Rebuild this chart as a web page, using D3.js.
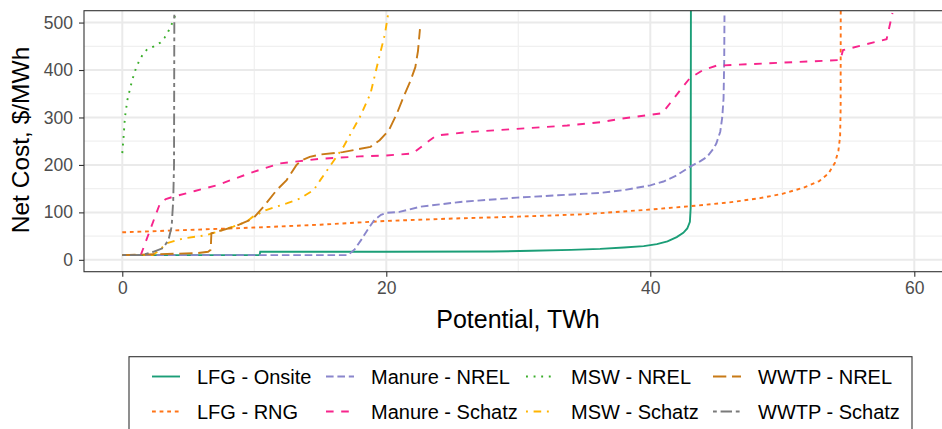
<!DOCTYPE html>
<html>
<head>
<meta charset="utf-8">
<script src="https://cdn.jsdelivr.net/npm/d3@7"></script>
<style>
  body { margin: 0; background: #fff; }
  svg { font-family: "Liberation Sans", Arial, sans-serif; }
</style>
</head>
<body>
<div id="chart"></div>
<script>
// --- data ---
const seriesNames = ["LFG - Onsite", "LFG - RNG", "Manure - NREL", "Manure - Schatz",
                     "MSW - NREL", "MSW - Schatz", "WWTP - NREL", "WWTP - Schatz"];

// [potential TWh, net cost $/MWh]
const lfgOnsite = [[0,10],[10.4,10],[10.45,17],[20,17],[28,17.5],[31,19],[34,21],[36.2,23],[38,26],
  [39.5,29],[40.5,33],[41.3,39],[42,48],[42.5,57],[42.8,66],[43.0,80],[43.06,110],[43.08,600]];
const lfgRng = [[0,58],[5,63],[10,68],[15,74],[20,82],[25,87],[30,91],[35,96],[40,106],[43,113],
  [46,121],[48.3,130],[50,139],[51.6,152],[52.8,166],[53.5,182],[54.0,205],[54.25,230],[54.38,260],
  [54.42,320],[54.43,600]];
const manureNrel = [[0,10],[17.1,10],[17.6,22],[18.1,42],[18.6,64],[19.1,84],[19.6,95],[20,99],[21,101],
  [22.6,112],[25.6,122],[29.9,131],[33,136],[36.2,141],[38,147],[40,157],[41,165],[42,178],[43,196],
  [43.8,208],[44.3,217],[44.8,235],[45,245],[45.3,270],[45.45,300],[45.55,340],[45.6,420],[45.62,515]];
const manureSchatz = [[1.4,10],[1.8,40],[2.2,70],[2.6,100],[2.86,119],[3.3,128],[3.86,133],[5.5,145],
  [7.15,157],[9.9,185],[11.9,203],[13.45,208],[15,213],[18,218],[20,220],[22,224],[23.1,248],[23.8,262],
  [26.1,269],[29.9,276],[33.7,283],[36.2,290],[37.7,297],[40.9,309],[41.5,330],[42.25,357],[43,383],
  [44,400],[45,409],[48.8,414],[54.4,421],[54.6,442],[57.9,465],[58.35,520]];
const mswNrel = [[0,225],[0.1,260],[0.2,300],[0.38,336],[0.6,362],[0.8,383],[1.05,405],[1.35,423],
  [1.6,435],[1.9,444],[2.4,450],[2.9,458],[3.2,468],[3.5,482],[3.8,500],[4.1,522]];
const mswSchatz = [[0,10],[2.3,10],[2.8,20],[3.36,35],[4.6,45],[6.4,52],[7.5,62],[8.4,70],[9.4,80],
  [9.9,91],[10.4,98],[10.9,105],[12.45,119],[13.45,129],[14.5,147],[15,168],[15.7,196],[16.75,238],
  [18,301],[18.8,350],[19.4,420],[19.9,476],[20.15,520]];
const wwtpNrel = [[0,10],[5.6,14],[6.5,17],[6.7,21],[6.75,56],[8.4,69],[9.9,87],[10.7,112],[11.7,147],
  [12.45,168],[13.2,200],[13.6,210],[14.2,217],[15,222],[16.7,227],[18.8,238],[19.5,252],[20.2,273],
  [20.8,308],[21.3,343],[21.8,375],[22.2,406],[22.4,440],[22.55,486]];
const wwtpSchatz = [[0,10],[1.5,10],[2.35,17],[3.1,25],[3.5,42],[3.74,70],[3.86,126],[3.92,200],[3.95,600]];

const seriesData = [lfgOnsite, lfgRng, manureNrel, manureSchatz, mswNrel, mswSchatz, wwtpNrel, wwtpSchatz];

const xTicks = [0, 20, 40, 60];
const yTicks = [0, 100, 200, 300, 400, 500];

// --- styles ---
const colors = ["#1B9E77", "#FF7417", "#8A86CC", "#F7248C", "#3AAE2A", "#FFB400", "#C87A16", "#7A7A7A"];
const u = 1.9; // ggplot linetype unit
const dashes = ["", "2 2", "4 2", "4 4", "1 3", "1 3 4 3", "7 3", "2 2 6 2"]
  .map(s => s ? s.split(" ").map(v => +v * u).join(" ") : null);

const W = 942, H = 429;
const panel = { left: 84, top: 10.7, right: 944, bottom: 271.7 };

const svg = d3.select("#chart").append("svg")
  .attr("width", W).attr("height", H);

const x = d3.scaleLinear().domain([-2.9, 62.25]).range([panel.left, panel.right]);
const y = d3.scaleLinear().domain([-25, 525]).range([panel.bottom, panel.top]);

// grid
const grid = svg.append("g");
[10, 30, 50].forEach(v => grid.append("line")
  .attr("x1", x(v)).attr("x2", x(v)).attr("y1", panel.top).attr("y2", panel.bottom)
  .attr("stroke", "#F0F0F0").attr("stroke-width", 1.2));
[50, 150, 250, 350, 450].forEach(v => grid.append("line")
  .attr("x1", panel.left).attr("x2", panel.right).attr("y1", y(v)).attr("y2", y(v))
  .attr("stroke", "#F0F0F0").attr("stroke-width", 1.2));
xTicks.forEach(v => grid.append("line")
  .attr("x1", x(v)).attr("x2", x(v)).attr("y1", panel.top).attr("y2", panel.bottom)
  .attr("stroke", "#EAEAEA").attr("stroke-width", 2));
yTicks.forEach(v => grid.append("line")
  .attr("x1", panel.left).attr("x2", panel.right).attr("y1", y(v)).attr("y2", y(v))
  .attr("stroke", "#EAEAEA").attr("stroke-width", 2));

// lines
svg.append("clipPath").attr("id", "clip").append("rect")
  .attr("x", panel.left).attr("y", panel.top)
  .attr("width", panel.right - panel.left).attr("height", panel.bottom - panel.top);

const line = d3.line().x(d => x(d[0])).y(d => y(d[1]));

svg.append("g").attr("clip-path", "url(#clip)")
  .selectAll("path").data(seriesData).enter().append("path")
  .attr("d", line)
  .attr("fill", "none")
  .attr("stroke", (d, i) => colors[i])
  .attr("stroke-width", 1.9)
  .attr("stroke-dasharray", (d, i) => dashes[i]);

// panel border
svg.append("rect")
  .attr("x", panel.left).attr("y", panel.top)
  .attr("width", panel.right - panel.left).attr("height", panel.bottom - panel.top)
  .attr("fill", "none").attr("stroke", "#333").attr("stroke-width", 1.1);

// axes
const xAxis = svg.append("g").attr("transform", `translate(0,${panel.bottom})`)
  .call(d3.axisBottom(x).tickValues(xTicks).tickSize(5).tickPadding(5).tickFormat(d3.format("d")));
const yAxis = svg.append("g").attr("transform", `translate(${panel.left},0)`)
  .call(d3.axisLeft(y).tickValues(yTicks).tickSize(5).tickPadding(6).tickFormat(d3.format("d")));
[xAxis, yAxis].forEach(a => {
  a.select(".domain").remove();
  a.selectAll(".tick line").attr("stroke", "#333").attr("stroke-width", 1.1);
  a.selectAll(".tick text").attr("fill", "#4D4D4D").attr("font-size", 17.5)
    .attr("font-family", "Liberation Sans, Arial, sans-serif");
});

svg.append("text")
  .attr("x", (panel.left + 942) / 2 + 5).attr("y", 328)
  .attr("text-anchor", "middle").attr("font-size", 25).attr("fill", "#000")
  .text("Potential, TWh");
svg.append("text")
  .attr("transform", `translate(29,140) rotate(-90)`)
  .attr("text-anchor", "middle").attr("font-size", 24.5).attr("fill", "#000")
  .text("Net Cost, $/MWh");

// legend
const legend = svg.append("g");
legend.append("rect")
  .attr("x", 129).attr("y", 356.7).attr("width", 783).attr("height", 80)
  .attr("fill", "#fff").attr("stroke", "#333").attr("stroke-width", 1.1);

const colX = [152, 326, 526, 713];
const rowY = [376.5, 411.5];
seriesNames.forEach((name, i) => {
  const c = Math.floor(i / 2), r = i % 2;
  const g = legend.append("g").attr("transform", `translate(${colX[c]},${rowY[r]})`);
  g.append("line").attr("x1", 0).attr("x2", 28).attr("y1", 0).attr("y2", 0)
    .attr("stroke", colors[i]).attr("stroke-width", 1.9)
    .attr("stroke-dasharray", dashes[i]);
  g.append("text").attr("x", 45).attr("y", 7.3)
    .attr("font-size", 20).attr("fill", "#000").text(name);
});
</script>
</body>
</html>
